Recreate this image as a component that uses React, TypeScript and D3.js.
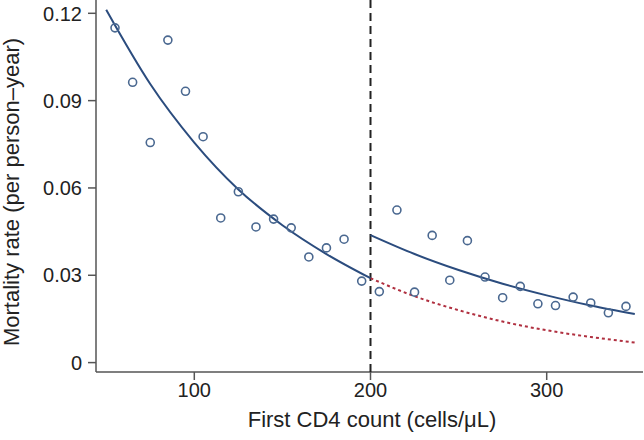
import React from 'react';
import * as d3 from 'd3';

// observed mortality rates, one per CD4 stratum (midpoints)
const cd4Points = [55, 65, 75, 85, 95, 105, 115, 125, 135, 145, 155, 165, 175, 185, 195,
    205, 215, 225, 235, 245, 255, 265, 275, 285, 295, 305, 315, 325, 335, 345];
const mortality = [0.115, 0.0963, 0.0756, 0.1108, 0.0932, 0.0776, 0.0497, 0.0587, 0.0466, 0.0493,
    0.0463, 0.0363, 0.0394, 0.0424, 0.028, 0.0244, 0.0524, 0.0242, 0.0437, 0.0283,
    0.0419, 0.0294, 0.0223, 0.0262, 0.0202, 0.0196, 0.0225, 0.0205, 0.0171, 0.0193];

// fitted curves
const fitLeftX = [50, 75, 100, 125, 150, 175, 200];
const fitLeftY = [0.1212, 0.0957, 0.0756, 0.0595, 0.0472, 0.0373, 0.029];
const fitRightX = [200, 225, 250, 275, 300, 325, 350];
const fitRightY = [0.0438, 0.0373, 0.0318, 0.0271, 0.0231, 0.0196, 0.0167];
const extrapX = [200, 225, 250, 275, 300, 325, 350];
const extrapY = [0.029, 0.0228, 0.018, 0.0141, 0.0111, 0.0088, 0.0069];

const xTicks = [100, 200, 300];
const yTicks = [0, 0.03, 0.06, 0.09, 0.12];
const threshold = 200;

const font = 'Liberation Sans, Arial, Helvetica, sans-serif';

export default function App() {
    const width = 644, height = 440;
    const left = 96, right = 643, top = 0, axisY = 372;

    const x = d3.scaleLinear().domain([100, 300]).range([194.3, 546.7]);
    const y = d3.scaleLinear().domain([0, 0.12]).range([362.6, 13.3]);

    const line = d3.line<[number, number]>()
        .x(d => x(d[0]))
        .y(d => y(d[1]))
        .curve(d3.curveMonotoneX);

    const zip = (xs: number[], ys: number[]) => xs.map((v, i) => [v, ys[i]] as [number, number]);

    const blue = '#2b4c7e';

    return (
        <svg width={width} height={height}
            style={{position: 'absolute', left: 0, top: 0, background: '#fff'}}>
            {/* axes */}
            <line x1={left} x2={left} y1={top} y2={axisY} stroke="#555" strokeWidth={1.5}/>
            <line x1={left} x2={right} y1={axisY} y2={axisY} stroke="#555" strokeWidth={1.5}/>
            {yTicks.map(t => (
                <g key={'y' + t}>
                    <line x1={left - 8} x2={left} y1={y(t)} y2={y(t)} stroke="#555" strokeWidth={1.5}/>
                    <text x={82} y={y(t)} dy="0.36em" textAnchor="end"
                        fontFamily={font} fontSize={20} fill="#222">{t === 0 ? '0' : t.toFixed(2)}</text>
                </g>
            ))}
            {xTicks.map(t => (
                <g key={'x' + t}>
                    <line x1={x(t)} x2={x(t)} y1={axisY} y2={axisY + 8} stroke="#555" strokeWidth={1.5}/>
                    <text x={x(t)} y={396.7} textAnchor="middle"
                        fontFamily={font} fontSize={20} fill="#222">{t}</text>
                </g>
            ))}
            <text x={372} y={426.7} textAnchor="middle" fontFamily={font} fontSize={22} fill="#222">
                First CD4 count (cells/μL)
            </text>
            <text transform="translate(18.5,192) rotate(-90)" textAnchor="middle"
                fontFamily={font} fontSize={22} fill="#222">
                Mortality rate (per person–year)
            </text>

            {/* threshold */}
            <line x1={x(threshold)} x2={x(threshold)} y1={top} y2={axisY}
                stroke="#222" strokeWidth={2} strokeDasharray="8,5"/>

            {/* fits */}
            <path d={line(zip(extrapX, extrapY)) || ''} fill="none" stroke="#b03040"
                strokeWidth={2} strokeDasharray="3,3"/>
            <path d={line(zip(fitLeftX, fitLeftY)) || ''} fill="none" stroke={blue} strokeWidth={2}/>
            <path d={line(zip(fitRightX, fitRightY)) || ''} fill="none" stroke={blue} strokeWidth={2}/>

            {/* observed */}
            {cd4Points.map((c, i) => (
                <circle key={c} cx={x(c)} cy={y(mortality[i])} r={4}
                    fill="none" stroke="#4a6890" strokeWidth={1.6}/>
            ))}
        </svg>
    );
}
